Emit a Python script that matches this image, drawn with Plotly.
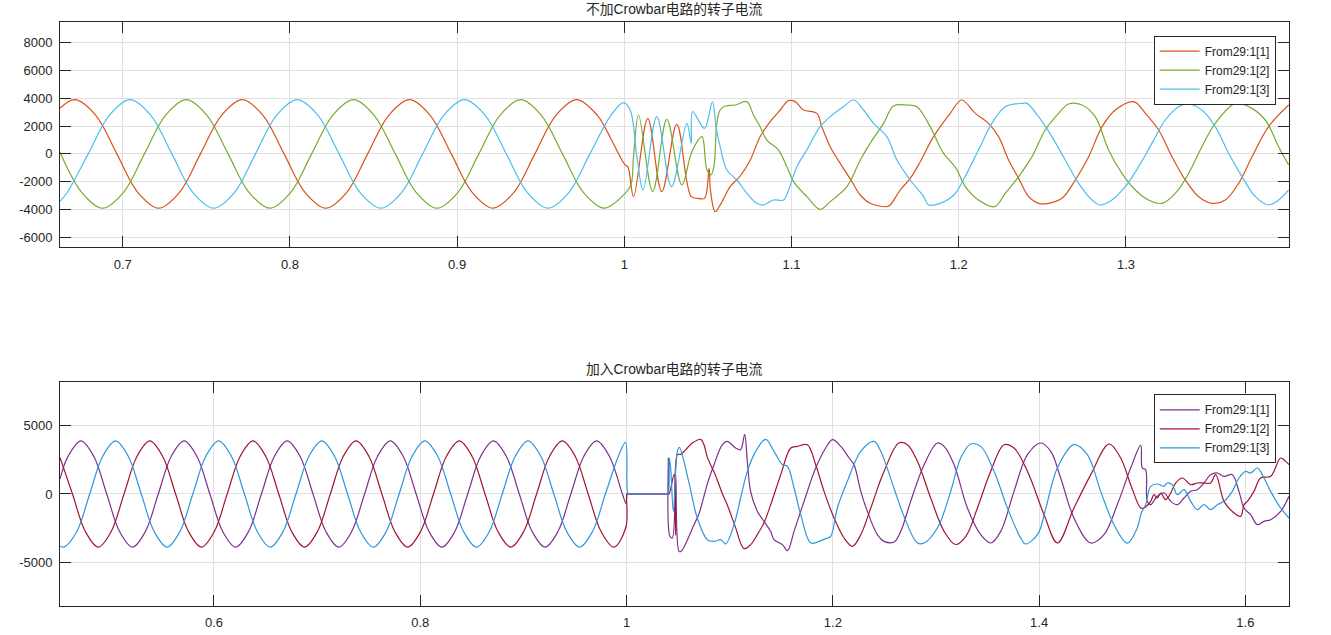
import plotly.graph_objects as go

# ---------------- data ----------------
# Top panel: without Crowbar (time s, rotor current)
TOP_RED_T = [0.6625, 0.6715, 0.6840, 0.6965, 0.7090, 0.7215, 0.7340, 0.7465, 0.7590, 0.7715, 0.7840, 0.7965, 0.8090, 0.8215,
             0.8340, 0.8465, 0.8590, 0.8715, 0.8840, 0.8965, 0.9090, 0.9215, 0.9340, 0.9465, 0.9590, 0.9715, 0.9840,
             0.9885, 1.0005, 1.0021, 1.0055, 1.0140, 1.0224, 1.0314, 1.0400, 1.0440, 1.0480,
             1.0507, 1.0515, 1.0543, 1.0573, 1.0633, 1.0693, 1.0753, 1.0812, 1.0872, 1.0932,
             1.0982, 1.1022, 1.1072, 1.1151, 1.1181, 1.1231, 1.1291, 1.1361, 1.1411, 1.1470,
             1.1570, 1.1590, 1.1650, 1.1710, 1.1770, 1.1849, 1.1949, 1.2017, 1.2099, 1.2178,
             1.2238, 1.2298, 1.2358, 1.2418, 1.2477, 1.2537, 1.2617, 1.2697, 1.2777, 1.2857,
             1.2936, 1.3046, 1.3116, 1.3195, 1.3275, 1.3355, 1.3435, 1.3514, 1.3594, 1.3674,
             1.3754, 1.3853, 1.3973]
TOP_RED_V = [3281, 3900, 2760, 0, -2760, -3900, -2760, 0, 2760, 3900, 2760, 0, -2760, -3900,
             -2760, 0, 2760, 3900, 2760, 0, -2760, -3900, -2760, 0, 2760, 3900, 2760,
             1887, -798, -918, -3077, 2559, -2717, 2127, -3077, -3196, -3196,
             -1039, -2600, -4156, -3676, -2357, -1590, -439, 1240, 2319, 3158,
             3830, 3758, 3158, 2918, 1959, 520, -679, -1998, -2957, -3556,
             -3796, -3676, -2597, -1758, -559, 1240, 2918, 3878, 2918, 2199,
             1240, -439, -1758, -3077, -3556, -3556, -3197, -1878, -199, 1959,
             3158, 3758, 2918, 1720, -199, -1878, -3077, -3556, -3316, -2117,
             -199, 1959, 3518]

TOP_GRN_T = [0.6625, 0.6755, 0.6880, 0.7005, 0.7130, 0.7255, 0.7380, 0.7505, 0.7630, 0.7755, 0.7880, 0.8005, 0.8130, 0.8255,
             0.8380, 0.8505, 0.8630, 0.8755, 0.8880, 0.9005, 0.9130, 0.9255, 0.9380, 0.9505, 0.9630, 0.9755, 0.9880,
             1.0005, 1.0040, 1.0055, 1.0085, 1.0170, 1.0254, 1.0344, 1.0404, 1.0464, 1.0494,
             1.0519, 1.0537, 1.0553, 1.0573, 1.0603, 1.0663, 1.0733, 1.0772, 1.0812, 1.0852,
             1.0922, 1.0972, 1.1012, 1.1092, 1.1171, 1.1231, 1.1331, 1.1411, 1.1470, 1.1550,
             1.1610, 1.1690, 1.1750, 1.1829, 1.1909, 1.1982, 1.2039, 1.2118, 1.2214, 1.2278,
             1.2358, 1.2438, 1.2517, 1.2597, 1.2657, 1.2737, 1.2816, 1.2896, 1.2976, 1.3056,
             1.3135, 1.3215, 1.3295, 1.3375, 1.3454, 1.3534, 1.3654, 1.3734, 1.3833, 1.3913,
             1.3973]
TOP_GRN_V = [120, -2760, -3900, -2760, 0, 2760, 3900, 2760, 0, -2760, -3900, -2760, 0, 2760,
             3900, 2760, 0, -2760, -3900, -2760, 0, 2760, 3900, 2760, 0, -2760, -3900,
             -2837, -2200, -199, 2799, -2717, 2487, -2237, 160, 1240, -1158,
             -1500, -800, 2199, 3158, 3446, 3518, 3758, 2799, 1959, 999,
             280, -918, -1998, -3077, -3988, -3436, -2357, -439, 760, 2199,
             3446, 3518, 3398, 1959, 41, -1000, -2357, -3316, -3796, -2837,
             -1638, -199, 1720, 2918, 3590, 3518, 2679, 280, -1398, -2597,
             -3316, -3556, -2837, -1398, 520, 2199, 3638, 3398, 2439, 520,
             -798]

TOP_BLU_T = [0.6625, 0.6669, 0.6794, 0.6919, 0.7044, 0.7169, 0.7294, 0.7419, 0.7544, 0.7669, 0.7794, 0.7919, 0.8044, 0.8169,
             0.8294, 0.8419, 0.8544, 0.8669, 0.8794, 0.8919, 0.9044, 0.9169, 0.9294, 0.9419, 0.9544, 0.9669, 0.9794, 0.9919,
             0.9995, 1.0035, 1.0075, 1.0112, 1.0194, 1.0282, 1.0374, 1.0400, 1.0408, 1.0479,
             1.0527, 1.0550, 1.0573, 1.0613, 1.0673, 1.0733, 1.0792, 1.0832, 1.0892, 1.0952,
             1.0982, 1.1032, 1.1091, 1.1171, 1.1231, 1.1311, 1.1371, 1.1431, 1.1490, 1.1570,
             1.1630, 1.1710, 1.1790, 1.1820, 1.1889, 1.1975, 1.2035, 1.2118, 1.2198, 1.2278,
             1.2378, 1.2408, 1.2477, 1.2557, 1.2637, 1.2717, 1.2797, 1.2846, 1.2916, 1.2996,
             1.3076, 1.3155, 1.3235, 1.3315, 1.3375, 1.3454, 1.3534, 1.3614, 1.3694, 1.3774,
             1.3853, 1.3913, 1.3973]
TOP_BLU_V = [-3420, -2760, 0, 2760, 3900, 2760, 0, -2760, -3900, -2760, 0, 2760, 3900, 2760,
             0, -2760, -3900, -2760, 0, 2760, 3900, 2760, 0, -2760, -3900, -2760, 0, 2760,
             3686, 3158, -199, -2597, 2679, -2357, 2199, 760, 3038, 1839,
             3758, 1800, 520, -1158, -1878, -2837, -3556, -3676, -3316, -3316,
             -2597, -918, 280, 1959, 2679, 3398, 3878, 3158, 2199, 1240,
             -439, -1878, -3077, -3676, -3556, -2900, -1700, 280, 2199, 3398,
             3638, 3638, 2679, 1240, -439, -2117, -3316, -3676, -3316, -2357,
             -918, 760, 2439, 3398, 3590, 3158, 1959, 41, -1638, -3077,
             -3676, -3316, -2597]

# Bottom panel: with Crowbar
BOT_PUR_T = [0.4507, 0.4585, 0.4710, 0.4835, 0.4960, 0.5085, 0.5210, 0.5335, 0.5460, 0.5585, 0.5710, 0.5835, 0.5960,
             0.6085, 0.6210, 0.6335, 0.6460, 0.6585, 0.6710, 0.6835, 0.6960, 0.7085, 0.7210, 0.7335, 0.7460,
             0.7585, 0.7710, 0.7835, 0.7960, 0.8085, 0.8210, 0.8335, 0.8460, 0.8585, 0.8710, 0.8835, 0.8960,
             0.9085, 0.9210, 0.9335, 0.9460, 0.9585, 0.9710, 0.9835, 0.9960,
             0.9995, 1.0005, 1.0015, 1.0200, 1.0390, 1.0400, 1.0405, 1.0420, 1.0444, 1.0476, 1.0509, 1.0530, 1.0654,
             1.0700, 1.0790, 1.0848, 1.0929, 1.0977, 1.1058, 1.1106, 1.1145, 1.1171, 1.1203,
             1.1268, 1.1333, 1.1397, 1.1430, 1.1511, 1.1560, 1.1624, 1.1721, 1.1834, 1.1931,
             1.1996, 1.2077, 1.2158, 1.2206, 1.2271, 1.2335, 1.2432, 1.2497, 1.2594, 1.2659,
             1.2755, 1.2885, 1.3014, 1.3079, 1.3176, 1.3305, 1.3434, 1.3531, 1.3628, 1.3757,
             1.3887, 1.4016, 1.4113, 1.4210, 1.4338, 1.4500, 1.4629, 1.4758, 1.4888, 1.4985,
             1.5001, 1.5033, 1.5049, 1.5082, 1.5146, 1.5211, 1.5276, 1.5340, 1.5405, 1.5470,
             1.5534, 1.5599, 1.5663, 1.5728, 1.5793, 1.5873, 1.5938, 1.5987, 1.6051, 1.6116,
             1.6180, 1.6245, 1.6342, 1.6423]
BOT_PUR_V = [1100, 2750, 3890, 2750, 0, -2750, -3890, -2750, 0, 2750, 3890, 2750, 0,
             -2750, -3890, -2750, 0, 2750, 3890, 2750, 0, -2750, -3890, -2750, 0,
             2750, 3890, 2750, 0, -2750, -3890, -2750, 0, 2750, 3890, 2750, 0,
             -2750, -3890, -2750, 0, 2750, 3890, 2750, 0,
             -700, 0, 0, 0, 0, 0, 2633, -3101, -3223, 1413, -4199, -4199, -2247,
             -1500, 900, 2145, 3609, 3853, 3365, 3243, 4341, 2389, 193,
             -1271, -2003, -2735, -3345, -3711, -4150, -2735, -539, 1901, 3365,
             3975, 3487, 2633, 2145, 193, -1271, -2979, -3467, -3516, -2735,
             -539, 2145, 3731, 3487, 2145, -1027, -2979, -3589, -2735, 193,
             2877, 3731, 3121, 1150, -1759, -3589, -2979, -783, 1901, 3560,
             1901, 1779, -539, -783, -173, 71, -539, -783, -295, 193,
             315, 803, 1413, 1535, 1291, 1413, 193, -1027, -1515, -2247,
             -2003, -1881, -1271, -173]

BOT_RED_T = [0.4507, 0.4628, 0.4753, 0.4878, 0.5003, 0.5128, 0.5253, 0.5378, 0.5503, 0.5628, 0.5753, 0.5878, 0.6003,
             0.6128, 0.6253, 0.6378, 0.6503, 0.6628, 0.6753, 0.6878, 0.7003, 0.7128, 0.7253, 0.7378, 0.7503,
             0.7628, 0.7753, 0.7878, 0.8003, 0.8128, 0.8253, 0.8378, 0.8503, 0.8628, 0.8753, 0.8878, 0.9003,
             0.9128, 0.9253, 0.9378, 0.9503, 0.9628, 0.9753, 0.9878,
             0.9995, 1.0005, 1.0015, 1.0200, 1.0400, 1.0412, 1.0461, 1.0476, 1.0493, 1.0525, 1.0589, 1.0638, 1.0719,
             1.0751, 1.0783, 1.0860, 1.0930, 1.0977, 1.1050, 1.1139, 1.1203, 1.1268, 1.1333,
             1.1397, 1.1495, 1.1592, 1.1657, 1.1753, 1.1834, 1.1915, 1.2012, 1.2109, 1.2190,
             1.2271, 1.2368, 1.2497, 1.2640, 1.2723, 1.2820, 1.2949, 1.3079, 1.3190, 1.3290,
             1.3402, 1.3531, 1.3660, 1.3757, 1.3887, 1.4048, 1.4178, 1.4338, 1.4500, 1.4678,
             1.4791, 1.4888, 1.4985, 1.5017, 1.5082, 1.5114, 1.5146, 1.5179, 1.5227, 1.5276,
             1.5324, 1.5389, 1.5470, 1.5534, 1.5599, 1.5663, 1.5712, 1.5793, 1.5873, 1.5954,
             1.5987, 1.6019, 1.6083, 1.6148, 1.6245, 1.6342, 1.6391, 1.6423]
BOT_RED_V = [2680, 0, -2750, -3890, -2750, 0, 2750, 3890, 2750, 0, -2750, -3890, -2750,
             0, 2750, 3890, 2750, 0, -2750, -3890, -2750, 0, 2750, 3890, 2750,
             0, -2750, -3890, -2750, 0, 2750, 3890, 2750, 0, -2750, -3890, -2750,
             0, 2750, 3890, 2750, 0, -2750, -3890,
             -2400, 0, 0, 0, 0, 0, 1413, -3000, 2877, 2900, 3365, 3731, 4000,
             3609, 2700, 1413, 0, -800, -2300, -4000, -3711, -2979, -2100,
             -800, 1413, 3365, 3487, 3609, 2145, 193, -1759, -3223, -3833,
             -2979, -1027, 1657, 3731, 3609, 2389, -295, -2735, -3700, -3100,
             -1027, 1657, 3609, 3365, 1657, -1515, -3589, -1027, 1400, 3658,
             2633, 681, -1027, -1027, -539, -51, -295, 71, -417, 71,
             803, 1169, 681, 803, 803, 803, 1413, -539, -1271, -1637,
             -783, -539, 193, 1169, 1291, 2633, 2389, 2145]

BOT_BLU_T = [0.4507, 0.4545, 0.4670, 0.4795, 0.4920, 0.5045, 0.5170, 0.5295, 0.5420, 0.5545, 0.5670, 0.5795, 0.5920,
             0.6045, 0.6170, 0.6295, 0.6420, 0.6545, 0.6670, 0.6795, 0.6920, 0.7045, 0.7170, 0.7295, 0.7420,
             0.7545, 0.7670, 0.7795, 0.7920, 0.8045, 0.8170, 0.8295, 0.8420, 0.8545, 0.8670, 0.8795, 0.8920,
             0.9045, 0.9170, 0.9295, 0.9420, 0.9545, 0.9670, 0.9795, 0.9920,
             0.9991, 1.0014, 1.0030, 1.0200, 1.0390, 1.0402, 1.0415, 1.0428, 1.0454, 1.0493, 1.0512, 1.0600, 1.0686,
             1.0783, 1.0848, 1.0913, 1.0961, 1.1042, 1.1106, 1.1171, 1.1252, 1.1349, 1.1430,
             1.1511, 1.1560, 1.1624, 1.1689, 1.1786, 1.1867, 1.1947, 1.1980, 1.2044, 1.2141,
             1.2271, 1.2400, 1.2465, 1.2594, 1.2691, 1.2820, 1.2885, 1.3014, 1.3143, 1.3240,
             1.3337, 1.3434, 1.3563, 1.3693, 1.3822, 1.3870, 1.3990, 1.4060, 1.4177, 1.4338,
             1.4468, 1.4597, 1.4726, 1.4855, 1.4952, 1.4991, 1.5033, 1.5082, 1.5146, 1.5211,
             1.5243, 1.5292, 1.5340, 1.5405, 1.5470, 1.5534, 1.5599, 1.5663, 1.5728, 1.5793,
             1.5873, 1.5938, 1.6003, 1.6051, 1.6116, 1.6180, 1.6245, 1.6342, 1.6423]
BOT_BLU_V = [-3800, -3890, -2750, 0, 2750, 3890, 2750, 0, -2750, -3890, -2750, 0, 2750,
             3890, 2750, 0, -2750, -3890, -2750, 0, 2750, 3890, 2750, 0, -2750,
             -3890, -2750, 0, 2750, 3890, 2750, 0, -2750, -3890, -2750, 0, 2750,
             3890, 2750, 0, -2750, -3890, -2750, 0, 2750,
             3800, 0, 0, 0, 0, 0, 2633, 1900, -1271, 3121, 3414, 1000, -1759,
             -3345, -3467, -3345, -3662, -2247, -295, 1657, 3121, 4000, 3121,
             2145, 2023, 437, -1515, -3589, -3467, -3223, -3101, -1027, 925,
             3121, 3853, 3121, 400, -1650, -3589, -3589, -2491, 193, 2633,
             3658, 3487, 1657, -1027, -3223, -3662, -2900, -1200, 1901, 3609,
             2877, 193, -2247, -3600, -2491, -1393, -783, 559, 729, 559,
             803, 681, -51, 315, -539, -1149, -783, -1149, -783, -539,
             193, 1169, 1657, 1535, 1901, 1169, 193, -1027, -1759]

SERIES_NAMES = ["From29:1[1]", "From29:1[2]", "From29:1[3]"]
TITLES = ["不加Crowbar电路的转子电流", "加入Crowbar电路的转子电流"]

TOP_X_TICKS = [0.7, 0.8, 0.9, 1.0, 1.1, 1.2, 1.3]
TOP_X_LABELS = ["0.7", "0.8", "0.9", "1", "1.1", "1.2", "1.3"]
TOP_Y_TICKS = [-6000, -4000, -2000, 0, 2000, 4000, 6000, 8000]
TOP_Y_LABELS = ["-6000", "-4000", "-2000", "0", "2000", "4000", "6000", "8000"]
BOT_X_TICKS = [0.6, 0.8, 1.0, 1.2, 1.4, 1.6]
BOT_X_LABELS = ["0.6", "0.8", "1", "1.2", "1.4", "1.6"]
BOT_Y_TICKS = [-5000, 0, 5000]
BOT_Y_LABELS = ["-5000", "0", "5000"]

for a, b in [(TOP_RED_T, TOP_RED_V), (TOP_GRN_T, TOP_GRN_V), (TOP_BLU_T, TOP_BLU_V),
             (BOT_PUR_T, BOT_PUR_V), (BOT_RED_T, BOT_RED_V), (BOT_BLU_T, BOT_BLU_V)]:
    assert len(a) == len(b), (len(a), len(b))

# ---------------- figure ----------------
TOP_COLORS = ["#D95319", "#77AC30", "#4DBEEE"]
BOT_COLORS = ["#7E2F8E", "#A2142F", "#2C97DE"]
FONT = "Liberation Sans, Arial, Noto Sans CJK SC, sans-serif"
INK = "#262626"
W, H = 1331, 635

fig = go.Figure()
top_series = [(TOP_RED_T, TOP_RED_V), (TOP_GRN_T, TOP_GRN_V), (TOP_BLU_T, TOP_BLU_V)]
bot_series = [(BOT_PUR_T, BOT_PUR_V), (BOT_RED_T, BOT_RED_V), (BOT_BLU_T, BOT_BLU_V)]

for (t, v), name, col in zip(top_series, SERIES_NAMES, TOP_COLORS):
    fig.add_trace(go.Scatter(x=t, y=v, mode="lines", name=name, xaxis="x", yaxis="y",
                             legend="legend",
                             line=dict(color=col, width=1.2, shape="spline", smoothing=1.0)))
for (t, v), name, col in zip(bot_series, SERIES_NAMES, BOT_COLORS):
    fig.add_trace(go.Scatter(x=t, y=v, mode="lines", name=name, xaxis="x2", yaxis="y2",
                             legend="legend2",
                             line=dict(color=col, width=1.2, shape="spline", smoothing=1.0)))

axis_common = dict(showline=True, linecolor=INK, linewidth=1, mirror="ticks",
                   ticks="inside", ticklen=11, tickcolor=INK, tickwidth=1,
                   showgrid=True, gridcolor="#E0E0E0", gridwidth=1, zeroline=False,
                   tickfont=dict(family=FONT, size=13, color=INK))

XDOM = [60 / W, 1289 / W]
fig.update_layout(
    width=W, height=H, autosize=False,
    margin=dict(l=0, r=0, t=0, b=0),
    paper_bgcolor="white", plot_bgcolor="white",
    xaxis=dict(axis_common, domain=XDOM, range=[0.6625, 1.3975], anchor="y",
               tickvals=TOP_X_TICKS, ticktext=TOP_X_LABELS, ticklabelstandoff=5),
    yaxis=dict(axis_common, domain=[(H - 247.3) / H, (H - 22.3) / H], range=[-6719, 9467],
               anchor="x", tickvals=TOP_Y_TICKS, ticktext=TOP_Y_LABELS, ticklabelstandoff=4),
    xaxis2=dict(axis_common, domain=XDOM, range=[0.4507, 1.6423], anchor="y2",
                tickvals=BOT_X_TICKS, ticktext=BOT_X_LABELS, ticklabelstandoff=5),
    yaxis2=dict(axis_common, domain=[(H - 605.7) / H, (H - 381.7) / H], range=[-8180, 8221],
                anchor="x2", tickvals=BOT_Y_TICKS, ticktext=BOT_Y_LABELS, ticklabelstandoff=4),
    legend=dict(x=1275.7 / W, y=(H - 35.7) / H, xanchor="right", yanchor="top",
                bgcolor="white", bordercolor=INK, borderwidth=1, itemwidth=40,
                font=dict(family=FONT, size=12, color=INK), tracegroupgap=0),
    legend2=dict(x=1275.7 / W, y=(H - 394.3) / H, xanchor="right", yanchor="top",
                 bgcolor="white", bordercolor=INK, borderwidth=1, itemwidth=40,
                 font=dict(family=FONT, size=12, color=INK), tracegroupgap=0),
    annotations=[
        dict(text=TITLES[0], x=674.5 / W, y=(H - 10) / H, xref="paper", yref="paper",
             showarrow=False, xanchor="center", yanchor="middle",
             font=dict(family=FONT, size=13.8, color=INK)),
        dict(text=TITLES[1], x=674.5 / W, y=(H - 369) / H, xref="paper", yref="paper",
             showarrow=False, xanchor="center", yanchor="middle",
             font=dict(family=FONT, size=13.8, color=INK)),
    ],
)

# remove the browser's default 8px page margin so the figure sits at the window's corner
fig.write_html("out.html", config={"displayModeBar": False},
               post_script="document.body.style.margin='0px';")
